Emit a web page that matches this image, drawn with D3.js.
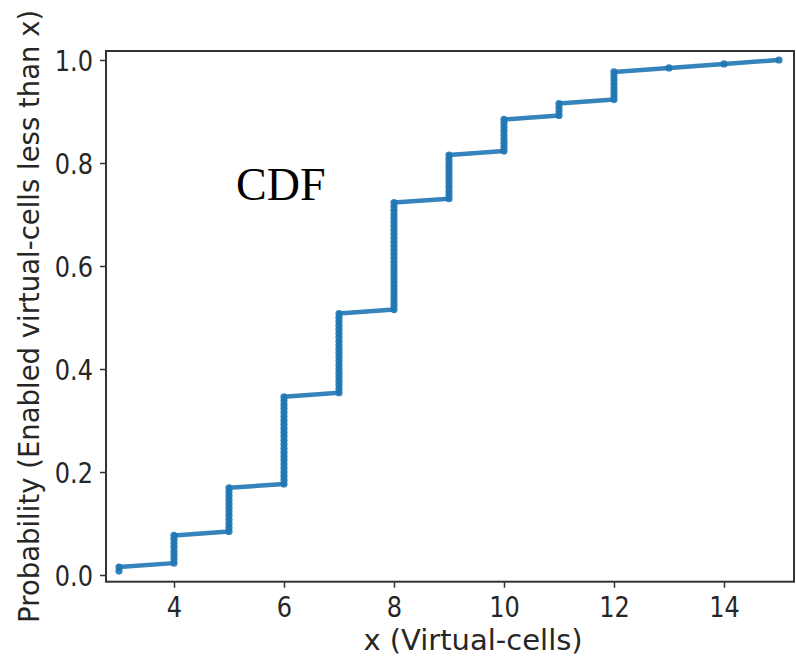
<!DOCTYPE html>
<html>
<head>
<meta charset="utf-8">
<script src="https://cdn.jsdelivr.net/npm/d3@7"></script>
<style>
  html, body { margin: 0; padding: 0; background: #fff; }
  svg { display: block; }
</style>
</head>
<body>
<svg id="chart" width="797" height="656"></svg>
<script>
// Observed virtual-cell counts (x) and number of samples at each value
const xValues = [3, 4, 5, 6, 7, 8, 9, 10, 11, 12, 13, 14, 15];
const sampleCounts = [2, 8, 12, 23, 21, 28, 12, 9, 4, 8, 1, 1, 1];
const xTicks = [4, 6, 8, 10, 12, 14];
const yTicks = [0.0, 0.2, 0.4, 0.6, 0.8, 1.0];
const xLabel = "x (Virtual-cells)";
const yLabel = "Probability (Enabled virtual-cells less than x)";
const annotation = "CDF";

(function () {
// Empirical CDF: sorted samples, y = i / n
const n = d3.sum(sampleCounts);
const points = [];
let idx = 0;
xValues.forEach((xv, k) => {
  for (let j = 0; j < sampleCounts[k]; j++) {
    idx += 1;
    points.push({ x: xv, y: idx / n });
  }
});

const svg = d3.select("#chart");
const mLeft = 106, mRight = 794, mTop = 51, mBottom = 581.7;

const x = d3.scaleLinear().domain([2.7636, 15.273]).range([mLeft, mRight]);
const y = d3.scaleLinear().domain([-0.0130, 1.01748]).range([mBottom, mTop]);

const font = "'DejaVu Sans', sans-serif";
const axisColor = "#333";
const textColor = "#262626";
const sx = 0.83;

// Axes
const xAxis = svg.append("g")
  .attr("transform", `translate(0,${mBottom})`)
  .call(d3.axisBottom(x).tickValues(xTicks).tickSize(6).tickPadding(6).tickFormat(d3.format("d")));
const yAxis = svg.append("g")
  .attr("transform", `translate(${mLeft},0)`)
  .call(d3.axisLeft(y).tickValues(yTicks).tickSize(6).tickPadding(7).tickFormat(d3.format(".1f")));

[xAxis, yAxis].forEach(g => {
  g.select(".domain").remove();
  g.selectAll(".tick line").attr("stroke", axisColor).attr("stroke-width", 1.5);
  g.selectAll(".tick text")
    .attr("fill", textColor)
    .style("font-family", font)
    .style("font-size", "29px");
});
xAxis.selectAll(".tick text")
  .attr("y", 0).attr("dy", "0.78em")
  .attr("transform", `translate(0,13) scale(${sx},1)`);
yAxis.selectAll(".tick text")
  .attr("x", 0).attr("dy", "0.36em")
  .attr("transform", `translate(-13,0) scale(${sx},1)`);

// Frame
svg.append("rect")
  .attr("x", mLeft).attr("y", mTop)
  .attr("width", mRight - mLeft).attr("height", mBottom - mTop)
  .attr("fill", "none")
  .attr("stroke", axisColor)
  .attr("stroke-width", 2);

// Line + markers
const line = d3.line().x(d => x(d.x)).y(d => y(d.y));
svg.append("path")
  .datum(points)
  .attr("d", line)
  .attr("fill", "none")
  .attr("stroke", "#1f77b4")
  .attr("stroke-width", 4.5)
  .attr("stroke-linejoin", "round")
  .attr("opacity", 0.9);

svg.append("g").selectAll("circle")
  .data(points)
  .join("circle")
  .attr("cx", d => x(d.x))
  .attr("cy", d => y(d.y))
  .attr("r", 3.6)
  .attr("fill", "#1f77b4")
  .attr("opacity", 0.9);

// Labels
svg.append("text")
  .attr("x", 473).attr("y", 650)
  .attr("text-anchor", "middle")
  .attr("fill", textColor)
  .style("font-family", font)
  .style("font-size", "29px")
  .text(xLabel);

svg.append("text")
  .attr("transform", `translate(39,${(mTop + mBottom) / 2}) rotate(-90)`)
  .attr("text-anchor", "middle")
  .attr("fill", textColor)
  .style("font-family", font)
  .style("font-size", "27.5px")
  .text(yLabel);

svg.append("text")
  .attr("x", 236).attr("y", 200)
  .attr("fill", "#000")
  .style("font-family", "'Liberation Serif', 'Times New Roman', serif")
  .style("font-size", "46px")
  .text(annotation);
})();
</script>
</body>
</html>
